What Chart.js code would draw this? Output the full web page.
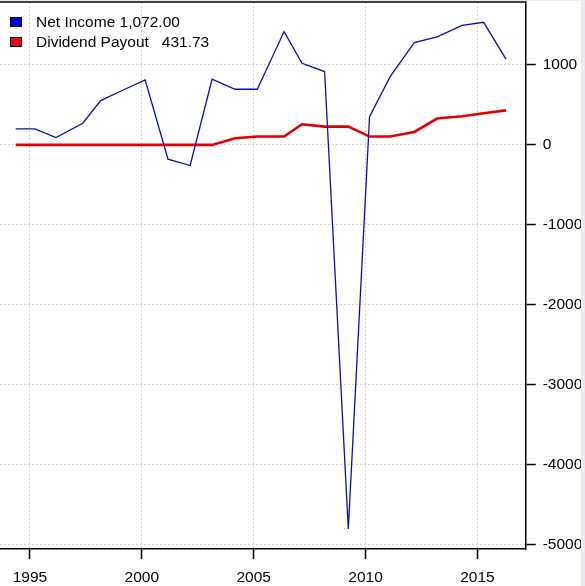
<!DOCTYPE html>
<html>
<head>
<meta charset="utf-8">
<script src="https://cdn.jsdelivr.net/npm/chart.js@4.4.1/dist/chart.umd.min.js"></script>
<style>
  html, body { margin: 0; padding: 0; background: #ffffff; }
  #Wrap { position: relative; width: 585px; height: 586px; overflow: hidden; }
  #Strip { position: absolute; right: 0; top: 0; width: 4px; height: 586px; background: #e6ecf6; }
  #TopStrip { position: absolute; left: 0; top: 0; width: 585px; height: 1px; background: #e6ecf6; }
  #Legend { position: absolute; left: 10px; top: 12px; font-family: "Liberation Sans", Arial, sans-serif; font-size: 15.5px; color: #000; }
  .LegendRow { position: relative; height: 20px; line-height: 20px; white-space: pre; }
  .LegendBox { position: absolute; left: 0; top: 5px; width: 10px; height: 8px; border: 1px solid #000; }
  .LegendText { position: absolute; left: 26px; top: 0; }
</style>
</head>
<body>
<div id="Wrap">
  <canvas id="IncomeChart" width="585" height="586"></canvas>
  <div id="Strip"></div>
  <div id="TopStrip"></div>
  <div id="Legend"></div>
</div>
<script>
// fiscal period ends, as decimal years
const periods = [
  1994.36, 1995.22, 1996.16, 1997.36, 1998.16, 1999.12, 2000.15, 2001.17,
  2002.16, 2003.14, 2004.17, 2005.16, 2006.36, 2007.16, 2008.17, 2009.23,
  2010.18, 2011.1, 2012.18, 2013.2, 2014.32, 2015.28, 2016.28,
];
const netIncome = [
  200, 200, 92, 271, 554, 680, 812, -179, -258, 821, 696, 696, 1417, 1021,
  917, -4804, 354, 854, 1279, 1350, 1495, 1533, 1072,
];
const dividendPayout = [
  0, 0, 0, 0, 0, 0, 0, 0, 0, 0, 83, 104, 104, 258, 229, 229, 104, 104, 162,
  329, 358, 395, 431.73,
];
const yearTicks = [1995, 2000, 2005, 2010, 2015];
const valueTicks = [1000, 0, -1000, -2000, -3000, -4000, -5000];

const seriesNames = ["Net Income", "Dividend Payout"];
const seriesColors = ["#0c0cb0", "#e00000"];
const boxColors = ["#0000f0", "#f00000"];

function toPoints(values) {
  return values.map((value, index) => ({ x: periods[index], y: value }));
}

function formatMoney(value) {
  return value.toLocaleString("en-US", {
    minimumFractionDigits: 2,
    maximumFractionDigits: 2,
  });
}

const legend = document.querySelector("#Legend");
const legendLabels = [
  seriesNames[0] + " " + formatMoney(netIncome[netIncome.length - 1]),
  seriesNames[1] + "   " + formatMoney(dividendPayout[dividendPayout.length - 1]),
];
legendLabels.forEach((label, index) => {
  const row = document.createElement("div");
  row.className = "LegendRow";
  const box = document.createElement("span");
  box.className = "LegendBox";
  box.style.background = boxColors[index];
  const text = document.createElement("span");
  text.className = "LegendText";
  text.textContent = label;
  row.appendChild(box);
  row.appendChild(text);
  legend.appendChild(row);
});

const topBorder = {
  id: "topBorder",
  afterDraw(chart) {
    const { ctx, chartArea } = chart;
    ctx.save();
    ctx.strokeStyle = "#000";
    ctx.lineWidth = 1.5;
    ctx.beginPath();
    ctx.moveTo(chartArea.left, chartArea.top);
    ctx.lineTo(chartArea.right, chartArea.top);
    ctx.stroke();
    ctx.restore();
  },
};

const tickFont = { family: "'Liberation Sans', Arial, sans-serif", size: 15.5 };

new Chart(document.querySelector("#IncomeChart"), {
  type: "line",
  data: {
    datasets: [
      {
        label: seriesNames[0],
        data: toPoints(netIncome),
        borderColor: seriesColors[0],
        borderWidth: 1.3,
        pointRadius: 0,
        tension: 0,
      },
      {
        label: seriesNames[1],
        data: toPoints(dividendPayout),
        borderColor: seriesColors[1],
        borderWidth: 2.6,
        pointRadius: 0,
        tension: 0,
      },
    ],
  },
  options: {
    responsive: false,
    animation: false,
    layout: { padding: { top: 2, left: 0, right: 0, bottom: 0 } },
    plugins: {
      legend: { display: false },
      tooltip: { enabled: false },
    },
    scales: {
      x: {
        type: "linear",
        min: 1993.66,
        max: 2017.16,
        afterBuildTicks: (axis) => {
          axis.ticks = yearTicks.map((value) => ({ value }));
        },
        afterFit: (axis) => {
          axis.height = 37;
          axis.paddingLeft = 0;
          axis.paddingRight = 0;
        },
        ticks: {
          color: "#000",
          font: tickFont,
          padding: 9,
          maxRotation: 0,
          callback: (value) => String(value),
        },
        grid: {
          color: "#d2d2d2",
          tickColor: "#000",
          tickLength: 10,
          tickWidth: 1.5,
          tickBorderDash: [],
        },
        border: { color: "#000", width: 1.5, dash: [2, 2] },
      },
      y: {
        position: "right",
        min: -5054,
        max: 1787,
        afterBuildTicks: (axis) => {
          axis.ticks = valueTicks.map((value) => ({ value }));
        },
        afterFit: (axis) => {
          axis.width = 59.3;
          axis.paddingTop = 0;
          axis.paddingBottom = 0;
        },
        ticks: {
          color: "#000",
          font: tickFont,
          padding: 7,
          callback: (value) => String(value),
        },
        grid: {
          color: "#d2d2d2",
          tickColor: "#000",
          tickLength: 10,
          tickWidth: 1.5,
          tickBorderDash: [],
        },
        border: { color: "#000", width: 1.5, dash: [2, 2] },
      },
    },
  },
  plugins: [topBorder],
});
</script>
</body>
</html>
